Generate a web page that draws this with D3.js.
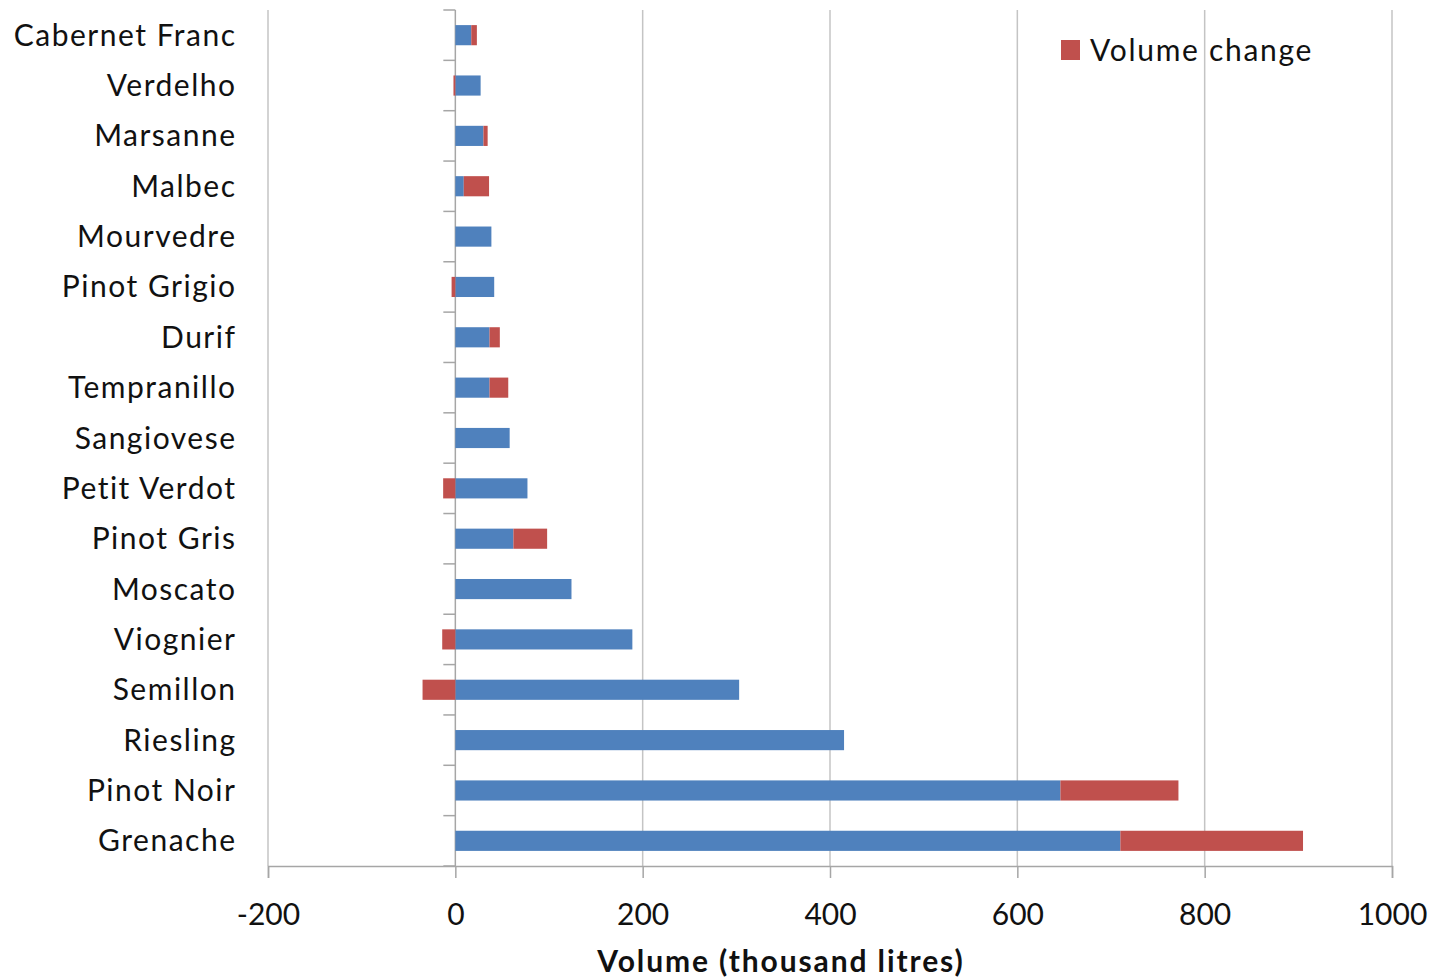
<!DOCTYPE html>
<html>
<head>
<meta charset="utf-8">
<script src="https://cdn.jsdelivr.net/npm/d3@7"></script>
<style>
  html, body { margin: 0; padding: 0; background: #fff; }
  svg { display: block; }
  text { font-family: Lato, "Open Sans", sans-serif; fill: #111; }
</style>
</head>
<body>
<svg id="chart" width="1436" height="980"></svg>
<script>
const categories = ["Cabernet Franc","Verdelho","Marsanne","Malbec","Mourvedre","Pinot Grigio","Durif","Tempranillo","Sangiovese","Petit Verdot","Pinot Gris","Moscato","Viognier","Semillon","Riesling","Pinot Noir","Grenache"];
const baseVolume = [17, 27, 30, 9, 38.5, 41.5, 36.5, 36.5, 58, 77, 62, 124, 189, 303, 415, 646, 710];
const volumeChange = [6, -2, 4.5, 27, 0, -4, 11, 20, 0, -13, 36, 0, -14, -35, 0, 126, 195];
const xTicks = [-200, 0, 200, 400, 600, 800, 1000];
const xTitle = "Volume (thousand litres)";
const legendLabel = "Volume change";

const svg = d3.select("#chart");
const pLeft = 268, pRight = 1392, pTop = 10, pBottom = 866;

const x = d3.scaleLinear().domain([-200, 1000]).range([pLeft, pRight]);
const y = d3.scaleBand().domain(categories).range([pTop, pBottom]).paddingInner(0.6).paddingOuter(0.3);

const BLUE = "#4F81BD", RED = "#C0504D", GRID = "#c4c4c4", AXIS = "#a6a6a6";

// vertical gridlines
svg.append("g").selectAll("line").data(xTicks).join("line")
  .attr("x1", d => x(d)).attr("x2", d => x(d))
  .attr("y1", pTop).attr("y2", pBottom)
  .attr("stroke", d => d === 0 ? AXIS : GRID).attr("stroke-width", 1.5);

// bottom axis
const xAxis = d3.axisBottom(x).tickValues(xTicks).tickSize(12).tickFormat(d => String(d));
const gx = svg.append("g").attr("transform", `translate(0,${pBottom})`).call(xAxis);
gx.select(".domain").attr("stroke", AXIS).attr("stroke-width", 1.5);
gx.selectAll(".tick line").attr("stroke", AXIS).attr("stroke-width", 1.5);
gx.selectAll(".tick text").attr("y", 38).attr("font-size", 30).attr("fill", "#111")
  .style("font-family", "Lato, 'Open Sans', sans-serif");

// category axis at zero
const step = y.step();
const boundaries = d3.range(categories.length + 1).map(i => pTop + i * step);
svg.append("g").selectAll("line").data(boundaries).join("line")
  .attr("x1", x(0) - 12).attr("x2", x(0))
  .attr("y1", d => d).attr("y2", d => d)
  .attr("stroke", AXIS).attr("stroke-width", 1.5);

// category labels
svg.append("g").selectAll("text").data(categories).join("text")
  .attr("x", 236.5).attr("y", d => y(d) + y.bandwidth() / 2)
  .attr("dy", "0.35em").attr("text-anchor", "end").attr("font-size", 30)
  .attr("letter-spacing", 1.5)
  .text(d => d);

// bars
const rows = categories.map((c, i) => ({ c, base: baseVolume[i], change: volumeChange[i] }));
svg.append("g").selectAll("rect").data(rows).join("rect")
  .attr("x", d => x(0)).attr("y", d => y(d.c))
  .attr("width", d => x(d.base) - x(0)).attr("height", y.bandwidth())
  .attr("fill", BLUE);
svg.append("g").selectAll("rect").data(rows.filter(d => d.change !== 0)).join("rect")
  .attr("x", d => d.change > 0 ? x(d.base) : x(d.change))
  .attr("y", d => y(d.c))
  .attr("width", d => Math.abs(x(d.change) - x(0))).attr("height", y.bandwidth())
  .attr("fill", RED);

// axis title
svg.append("text").attr("x", 781).attr("y", 972).attr("text-anchor", "middle")
  .attr("font-size", 30).attr("font-weight", "bold").attr("letter-spacing", 1.9).text(xTitle);

// legend
const lg = svg.append("g");
lg.append("rect").attr("x", 1061).attr("y", 40).attr("width", 19).attr("height", 20).attr("fill", RED);
lg.append("text").attr("x", 1090).attr("y", 50).attr("dy", "0.35em").attr("font-size", 30)
  .attr("letter-spacing", 1.7).text(legendLabel);
</script>
</body>
</html>
